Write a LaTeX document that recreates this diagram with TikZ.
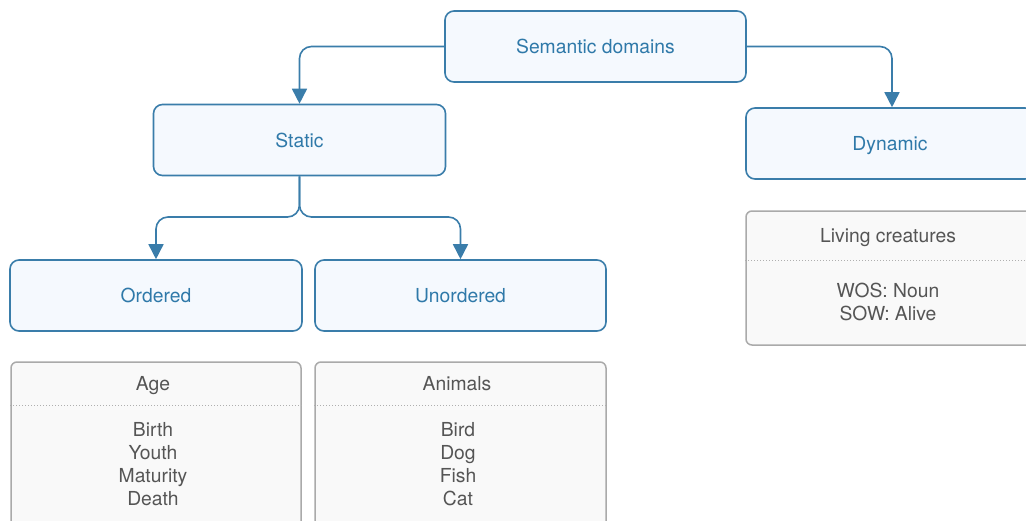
\documentclass[tikz,border=0pt]{standalone}
\usepackage{fontspec}
\setmainfont{TeX Gyre Heros}
\usetikzlibrary{arrows.meta}
\definecolor{cblue}{RGB}{58,125,170}
\definecolor{ctext}{RGB}{47,121,169}
\definecolor{cfill}{RGB}{245,249,254}
\definecolor{gstroke}{RGB}{170,170,170}
\definecolor{gfill}{RGB}{249,249,249}
\definecolor{gtext}{RGB}{85,85,85}
\definecolor{gdot}{RGB}{175,175,175}
\tikzset{
  bluebox/.style={draw=cblue, fill=cfill, line width=1.6pt, rounded corners=9pt,
    minimum height=71pt, text=ctext, inner sep=0pt, text height=14pt, text depth=0pt,
    font=\fontsize{19.3}{23}\selectfont},
  graybox/.style={draw=gstroke, fill=gfill, line width=1.5pt, rounded corners=6pt, inner sep=0pt},
  graytxt/.style={text=gtext, align=center, inner sep=0pt,
    font=\fontsize{19.3}{23}\selectfont},
  headtxt/.style={graytxt, text height=14pt, text depth=0pt},
  sep/.style={draw=gdot, line width=1pt, dotted},
  conn/.style={draw=cblue, line width=1.6pt, rounded corners=12pt,
    -{Triangle[width=15pt,length=15pt]}}
}
\begin{document}
\begin{tikzpicture}[x=1pt,y=-1pt]
\clip (0,0) rectangle (1026,520);
\fill[white] (0,0) rectangle (1026,520);
% blue nodes
\node[bluebox, minimum width=301pt] (sd) at (595.5,46.5) {Semantic domains};
\node[bluebox, minimum width=292pt] (st) at (299.5,140) {Static};
\node[bluebox, minimum width=288pt] (dy) at (890,143.5) {Dynamic};
\node[bluebox, minimum width=292pt] (or) at (156,295.5) {Ordered};
\node[bluebox, minimum width=291pt] (un) at (460.5,295.5) {Unordered};
% connectors
\coordinate (split) at (st.south |- 0,217);
\draw[conn] (sd.west) -| (st.north);
\draw[conn] (sd.east) -| ([xshift=2pt]dy.north);
\draw[conn] (st.south) -- (split) -| (or.north);
\draw[conn] (st.south) -- (split) -| (un.north);
% gray boxes
\node[graybox, minimum width=290pt, minimum height=180pt] (agebox) at (156,452) {};
\node[headtxt] (agehead) at (153,383.5) {Age};
\draw[sep] (agebox.west |- 0,405) -- (agebox.east |- 0,405);
\node[graytxt] (agebody) at (153,464) {Birth\\Youth\\Maturity\\Death};

\node[graybox, minimum width=291pt, minimum height=180pt] (anbox) at (460.5,452) {};
\node[headtxt] (anhead) at (457,383.5) {Animals};
\draw[sep] (anbox.west |- 0,405) -- (anbox.east |- 0,405);
\node[graytxt] (anbody) at (458,464) {Bird\\Dog\\Fish\\Cat};

\node[graybox, minimum width=288pt, minimum height=134pt] (lcbox) at (890,278) {};
\node[headtxt] (lchead) at (888,235.5) {Living creatures};
\draw[sep] (lcbox.west |- 0,260) -- (lcbox.east |- 0,260);
\node[graytxt] (lcbody) at (888,301.5) {WOS: Noun\\SOW: Alive};
\end{tikzpicture}
\end{document}
